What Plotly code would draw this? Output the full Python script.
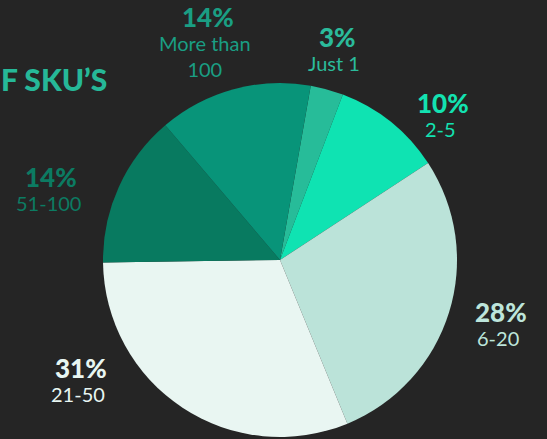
import plotly.graph_objects as go

# Data
categories = ["Just 1", "2-5", "6-20", "21-50", "51-100", "More than 100"]
display_labels = ["Just 1", "2-5", "6-20", "21-50", "51-100", "More than<br>100"]
values = [3, 10, 28, 31, 14, 14]
slice_colors = ["#27bc99", "#0fe3b2", "#bbe3d9", "#e9f6f2", "#087a60", "#089479"]
text_colors = ["#2bbb9b", "#13e2b1", "#bde5db", "#e8f6f2", "#0c7b62", "#1a9e83"]

W, H = 547, 439
BG = "#252525"

# label centers (pixels) for each category: (x, y of percent line)
label_pos = {
    "Just 1": (337, 37),
    "2-5": (443, 103),
    "6-20": (501, 312),
    "21-50": (81, 368),
    "51-100": (51, 177),
    "More than 100": (208, 17),
}

fig = go.Figure()
cx, cy, r = 280, 260, 177
fig.add_trace(go.Pie(
    labels=categories,
    values=values,
    sort=False,
    direction="clockwise",
    rotation=10,
    marker=dict(colors=slice_colors, line=dict(width=0)),
    textinfo="none",
    hoverinfo="label+percent",
    showlegend=False,
    domain=dict(x=[(cx - r) / W, (cx + r) / W], y=[(H - cy - r) / H, (H - cy + r) / H]),
))

annotations = []
total = sum(values)
for cat, lab, v, col in zip(categories, display_labels, values, text_colors):
    x, y = label_pos[cat]
    pct = round(100 * v / total)
    annotations.append(dict(
        x=x / W, y=1 - y / H, xref="paper", yref="paper",
        text=f"{pct}%", showarrow=False,
        xanchor="center", yanchor="middle",
        font=dict(family="Lato", size=26, color=col, weight=900),
    ))
    annotations.append(dict(
        x=(x - 3) / W, y=1 - (y + 12) / H, xref="paper", yref="paper",
        text=lab, showarrow=False,
        xanchor="center", yanchor="top",
        font=dict(family="Lato", size=20, color=col),
    ))

annotations.append(dict(
    x=-1 / W, y=1 - 79 / H, xref="paper", yref="paper",
    text="F SKU’S", showarrow=False,
    xanchor="left", yanchor="middle",
    font=dict(family="Lato", size=30, color="#26b898", weight=900),
))

fig.update_layout(
    width=W, height=H,
    margin=dict(l=0, r=0, t=0, b=0),
    paper_bgcolor=BG, plot_bgcolor=BG,
    annotations=annotations,
)

fig.write_html(
    "out.html",
    config={"displayModeBar": False},
    post_script="document.body.style.margin='0';document.body.style.background='#252525';document.documentElement.style.background='#252525';",
)
